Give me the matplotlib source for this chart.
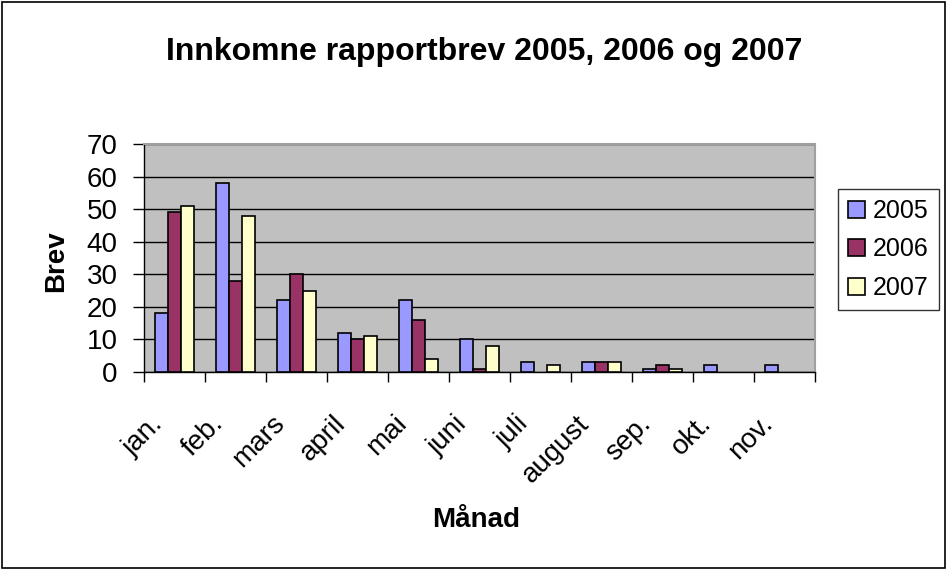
import matplotlib
matplotlib.use("Agg")
import matplotlib.pyplot as plt
from matplotlib.patches import Rectangle
from matplotlib.transforms import ScaledTranslation
import numpy as np

plt.rcParams['font.family'] = ['Liberation Sans', 'DejaVu Sans']

months = ["jan.", "feb.", "mars", "april", "mai", "juni", "juli", "august", "sep.", "okt.", "nov."]
v2005 = [18, 58, 22, 12, 22, 10, 3, 3, 1, 2, 2]
v2006 = [49, 28, 30, 10, 16, 1, 0, 3, 2, 0, 0]
v2007 = [51, 48, 25, 11, 4, 8, 2, 3, 1, 0, 0]
series = [("2005", v2005, "#9999FF"), ("2006", v2006, "#993366"), ("2007", v2007, "#FFFFCC")]

W, H = 948, 569
fig = plt.figure(figsize=(W / 100, H / 100), dpi=100)
fig.patches.append(Rectangle((0.002, 0.002), 0.995, 0.995, transform=fig.transFigure,
                             fill=False, edgecolor="black", linewidth=1.2))
ax = fig.add_axes([144 / W, 1 - 372 / H, (815 - 144) / W, (372 - 144) / H])
ax.set_facecolor("#C0C0C0")

x = np.arange(len(months))
w = 0.218
for i, (name, vals, col) in enumerate(series):
    ec = ["black" if v > 0 else "none" for v in vals]
    ax.bar(x + (i - 1) * w, vals, width=w, color=col, edgecolor=ec, linewidth=1.2, label=name, zorder=3)

ax.set_xlim(-0.5, len(months) - 0.5)
ax.set_ylim(0, 70)
ax.set_yticks(range(0, 71, 10))
ax.yaxis.grid(True, color="black", linewidth=1)
ax.set_axisbelow(True)
ax.tick_params(axis="y", labelsize=20, length=8, direction="out", width=1, pad=11)
ax.set_xticks(x)
ax.set_xticklabels(months, rotation=45, ha="right", va="baseline", rotation_mode="anchor", fontsize=20)
ax.tick_params(axis="x", which="major", length=0, pad=38)
off = ScaledTranslation(-11 / 100, 0, fig.dpi_scale_trans)
for lab in ax.get_xticklabels():
    lab.set_transform(lab.get_transform() + off)
ax.set_xticks(np.arange(-0.5, len(months), 1), minor=True)
ax.tick_params(axis="x", which="minor", length=7, direction="out", width=1)
for s in ["top", "right"]:
    ax.spines[s].set_color("#A0A0A0")
    ax.spines[s].set_linewidth(1.5)
for s in ["left", "bottom"]:
    ax.spines[s].set_color("black")
    ax.spines[s].set_linewidth(1)

fig.text(56 / W, 1 - 261 / H, "Brev", rotation=90, ha="center", va="center",
         fontsize=20, fontweight="bold")
fig.text(476 / W, 1 - 520 / H, "M\u00e5nad", ha="center", va="center",
         fontsize=20, fontweight="bold")
fig.text(484 / W, 1 - 52 / H, "Innkomne rapportbrev 2005, 2006 og 2007", ha="center", va="center",
         fontsize=23, fontweight="bold")

leg = fig.legend(*ax.get_legend_handles_labels(), loc="upper left", bbox_to_anchor=(838 / W, 1 - 189 / H),
                 fontsize=18, frameon=True, fancybox=False, edgecolor="black",
                 handlelength=0.68, handleheight=0.68, handletextpad=0.32,
                 labelspacing=0.58, borderpad=0.4, borderaxespad=0)
leg.get_frame().set_linewidth(1)

fig.savefig("out.png", dpi=100)
